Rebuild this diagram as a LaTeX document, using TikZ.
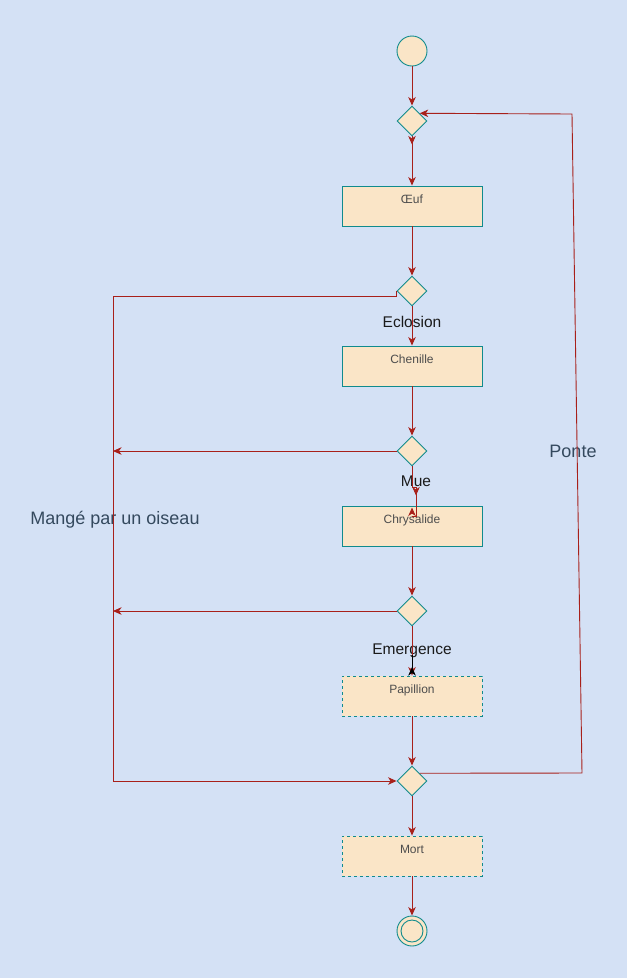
\documentclass[tikz,border=0pt]{standalone}
\usepackage{fontspec}
\setmainfont{Liberation Sans}
\usetikzlibrary{shapes.geometric,arrows.meta,calc}
\definecolor{bg}{HTML}{D4E1F5}
\definecolor{fillc}{HTML}{FAE5C7}
\definecolor{tealc}{HTML}{0F8B8D}
\definecolor{edgec}{HTML}{A8201A}
\definecolor{boxtxt}{HTML}{4D4D4D}
\definecolor{lbltxt}{HTML}{1A1A1A}
\definecolor{sidetxt}{HTML}{34495E}
\begin{document}
\begin{tikzpicture}[x=1pt,y=-1pt,
  box/.style={draw=tealc,fill=fillc,minimum width=140pt,minimum height=40pt,inner sep=0pt,line width=0.9pt},
  dbox/.style={box,dash pattern=on 3pt off 3pt},
  dec/.style={diamond,draw=tealc,fill=fillc,minimum width=30pt,minimum height=30pt,inner sep=0pt,line width=0.9pt},
  termc/.style={circle,draw=tealc,fill=fillc,minimum size=30pt,inner sep=0pt,line width=0.9pt},
  boxlbl/.style={anchor=north,inner sep=0pt,yshift=-9.5pt,font=\fontsize{12}{14}\selectfont,text=boxtxt},
  steplbl/.style={inner sep=0pt,font=\fontsize{15.5}{18}\selectfont,text=lbltxt},
  sidelbl/.style={inner sep=0pt,font=\fontsize{18}{21}\selectfont,text=sidetxt},
  conn/.style={draw=edgec,line width=0.9pt},
  arr/.style={conn,-{Stealth[length=8.5pt,width=7.5pt,inset=2.5pt]}},
]
\fill[bg] (0,0) rectangle (627,978);
\useasboundingbox (0,0) rectangle (627,978);

% nodes
\node[termc] (start) at (412,51) {};
\node[dec] (d1) at (412,121) {};
\node[box,label={[boxlbl]north:Œuf}] (oeuf) at (412,206) {};
\node[dec] (d2) at (412,291) {};
\node[box,label={[boxlbl]north:Chenille}] (chen) at (412,366) {};
\node[dec] (d3) at (412,451) {};
\node[box,label={[boxlbl]north:Chrysalide}] (chrys) at (412,526) {};
\node[dec] (d4) at (412,611) {};
\node[dbox,label={[boxlbl]north:Papillion}] (pap) at (412,696) {};
\node[dec] (d5) at (412,781) {};
\node[dbox,label={[boxlbl]north:Mort}] (mort) at (412,856) {};
\node[termc] (fin) at (412,931) {};
\draw[tealc,line width=0.9pt] (fin.center) circle (11pt);

% labels
\node[steplbl] (ecl) at (412,322) {Eclosion};
\node[steplbl] (mue) at (416,481) {Mue};
\node[steplbl] (emer) at (412,651) {Emergence};
\node[sidelbl] (ponte) at (573,451) {Ponte};
\node[sidelbl] (mange) at (115,520) {Mangé par un oiseau};

% coordinates
\coordinate (p1) at (582,773);
\coordinate (p2) at (572,114);
\coordinate (lx1) at (113,451);
\coordinate (lx2) at (113,611);

% main flow
\draw[arr] (start) -- (d1);
\draw[arr] (d1) -- (oeuf);
\draw[arr] (d1.south) -- ++(0,8);
\draw[arr] (oeuf) -- (d2);
\draw[arr] (d2) -- (chen);
\draw[arr] (chen) -- (d3);
\draw[conn] (d3.south) -- ++(0,21) -- ++(4,0) -- ($(chrys.north)+(4,11)$) -- ($(chrys.north)+(0,11)$);
\draw[arr] ($(d3.south)+(4,21)$) -- ++(0,8);
\draw[arr] ($(chrys.north)+(0,8)$) -- ++(0,-6);
\draw[arr] (chrys) -- (d4);
\draw[arr] (d4) -- (pap);
\draw[line width=0.9pt,{Stealth[length=8.5pt,width=7.5pt,inset=2.5pt,reversed]}-] (pap.north) -- ++(0,-21);
\draw[arr] (pap) -- (d5);
\draw[arr] (d5) -- (mort);
\draw[arr] (mort) -- (fin);

% Ponte loop
\draw[arr] ($(d5.north)!0.5!(d5.east)$) -- (p1) -- (p2) -- ($(d1.north)!0.5!(d1.east)$);

% Mangé par un oiseau
\draw[arr] (d2.west) -- ++(0,5) -- (113,296) -- (113,781) -- (d5.west);
\draw[arr] (d3.west) -- (lx1);
\draw[arr] (d4.west) -- (lx2);
\end{tikzpicture}
\end{document}
